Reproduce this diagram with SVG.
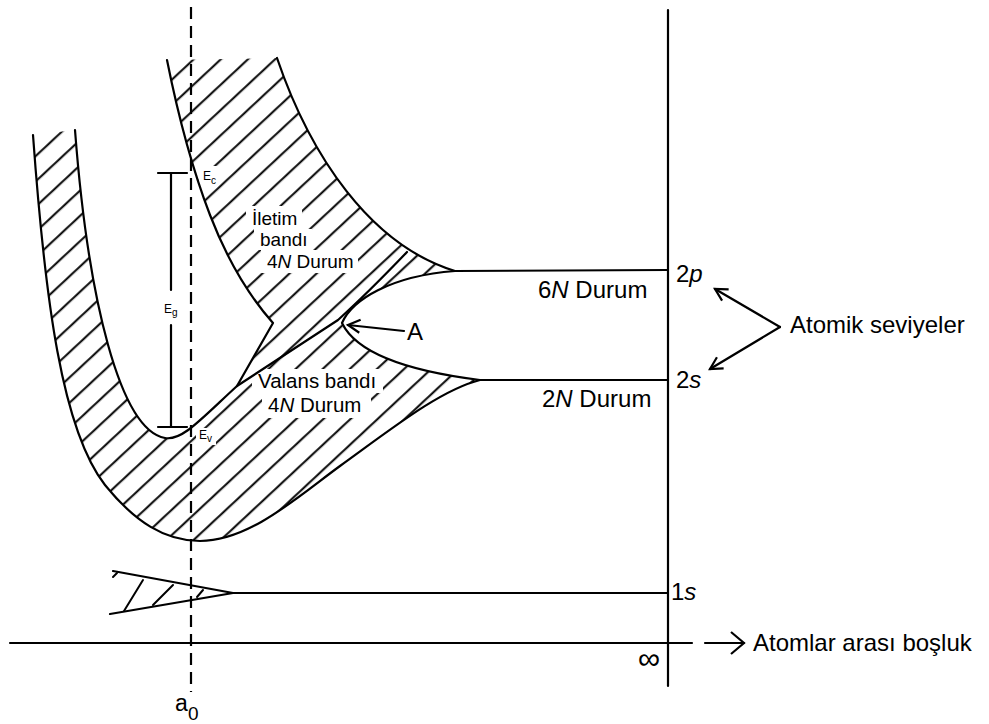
<svg xmlns="http://www.w3.org/2000/svg" width="989" height="724" viewBox="0 0 989 724">
<defs>
<style>
.ln{fill:none;stroke:#000;stroke-width:2.2;stroke-linejoin:round;stroke-linecap:round}
.hl{fill:none;stroke:#000;stroke-width:2;stroke-linecap:round}
.t{font-family:"Liberation Sans",Arial,sans-serif;fill:#000}
.big{font-size:24px}
.mid{font-size:19px}
.val{font-size:20.5px}
.sm{font-size:12px}
.sub{font-size:10px}
.wb{fill:#fff}
</style>
<pattern id="hatch" width="18.5" height="18.5" patternUnits="userSpaceOnUse" patternTransform="rotate(-43)">
<line x1="-2" y1="9" x2="21" y2="9" stroke="#000" stroke-width="2"/>
</pattern>
<marker id="ah" viewBox="-16 -10 20 20" refX="0" refY="0" markerWidth="20" markerHeight="20" orient="auto" markerUnits="userSpaceOnUse">
<path d="M-12,-6.5 L0,0 L-12,6.5" fill="none" stroke="#000" stroke-width="2.2"/>
</marker>
<marker id="ah2" viewBox="-16 -14 20 28" refX="0" refY="0" markerWidth="20" markerHeight="28" orient="auto" markerUnits="userSpaceOnUse">
<path d="M-13,-11 L0,0 L-13,11" fill="none" stroke="#000" stroke-width="2.2"/>
</marker>
</defs>
<rect width="989" height="724" fill="#fff"/>

<g id="bands">
<path id="hatched-region" fill="url(#hatch)" d="M167,60 Q185,150 210,215 T273,323 L237,386 C200,420 182,441 165,438 C120,430 88,300 75,130 L33,135 C45,300 62,430 105,485 C135,522 165,541 200,541 C250,541 300,495 340,466 C390,430 440,390 480,380 C400,370 355,350 342,323 C352,300 390,276 455,271 C370,245 310,155 277,58 Z"/>
<g id="label-clear">
<rect class="wb" x="246" y="206" width="56" height="23"/>
<rect class="wb" x="254" y="229" width="58" height="21"/>
<rect class="wb" x="261" y="250" width="97" height="23"/>
<rect class="wb" x="252" y="369" width="131" height="24"/>
<rect class="wb" x="262" y="393" width="109" height="25"/>
<rect class="wb" x="199" y="166" width="20" height="20"/>
<rect class="wb" x="196" y="428" width="20" height="17"/>
</g>
</g>

<g id="curves">
<path class="ln" d="M167,60 Q185,150 210,215 T273,323 L237,386"/>
<path class="ln" d="M75,130 C88,300 120,430 165,438 C182,441 200,420 237,386 L338,320 C360,300 385,275 407,252"/>
<path class="ln" d="M33,135 C45,300 62,430 105,485 C135,522 165,541 200,541 C250,541 300,495 340,466 C390,430 440,390 480,380 L668,380"/>
<path class="ln" d="M277,58 C310,155 370,245 455,271 L668,270"/>
<path class="ln" d="M455,271 C390,276 352,300 342,323 C355,350 400,370 480,380"/>
<path class="ln" d="M113,571 L233,593 L668,593 M110,614 L233,593"/>
<path class="hl" d="M113,577 L117,573 M124,611 L143,580 M153,605 L173,585 M197,597 L203,590"/>
</g>

<g id="axes">
<line x1="191" y1="7" x2="191" y2="692" stroke="#000" stroke-width="2.2" stroke-dasharray="12,7"/>
<line class="ln" x1="10" y1="643" x2="692" y2="643"/>
<line class="ln" x1="668" y1="10" x2="668" y2="686"/>
</g>

<g id="gap">
<path class="ln" d="M158,173 L187,173 M171,173 L171,290 M171,325 L171,427 M158,427 L187,427"/>
</g>

<g id="connectors">
<line class="ln" x1="705" y1="643" x2="744" y2="643" marker-end="url(#ah2)"/>
<line class="ln" x1="780" y1="327" x2="715" y2="289" marker-end="url(#ah)"/>
<line class="ln" x1="780" y1="327" x2="710" y2="369" marker-end="url(#ah)"/>
<line class="ln" x1="404" y1="331" x2="348" y2="325" marker-end="url(#ah)"/>
</g>

<g id="labels">
<text class="t sm" x="203" y="180">E<tspan class="sub" dy="4">c</tspan></text>
<text class="t sm" x="164" y="313">E<tspan class="sub" dy="3">g</tspan></text>
<text class="t sm" x="199" y="439">E<tspan class="sub" dy="3">v</tspan></text>
<text class="t mid" x="252" y="225">İletim</text>
<text class="t mid" x="260" y="246">bandı</text>
<text class="t mid" x="267" y="268">4<tspan font-style="italic">N</tspan> Durum</text>
<text class="t val" x="258" y="388">Valans bandı</text>
<text class="t val" x="268" y="412">4<tspan font-style="italic">N</tspan> Durum</text>
<text class="t big" x="407" y="340">A</text>
<text class="t big" x="538" y="298">6<tspan font-style="italic">N</tspan> Durum</text>
<text class="t big" x="542" y="407">2<tspan font-style="italic">N</tspan> Durum</text>
<text class="t big" x="676" y="282">2<tspan font-style="italic">p</tspan></text>
<text class="t big" x="676" y="388">2<tspan font-style="italic">s</tspan></text>
<text class="t big" x="671" y="600">1<tspan font-style="italic">s</tspan></text>
<text class="t big" x="790" y="333">Atomik seviyeler</text>
<text class="t big" x="753" y="651">Atomlar arası boşluk</text>
<text class="t" font-size="31" x="638" y="669">∞</text>
<text class="t" font-size="23" x="175" y="711">a</text>
<text class="t" font-size="19" x="188" y="720">0</text>
</g>
</svg>
